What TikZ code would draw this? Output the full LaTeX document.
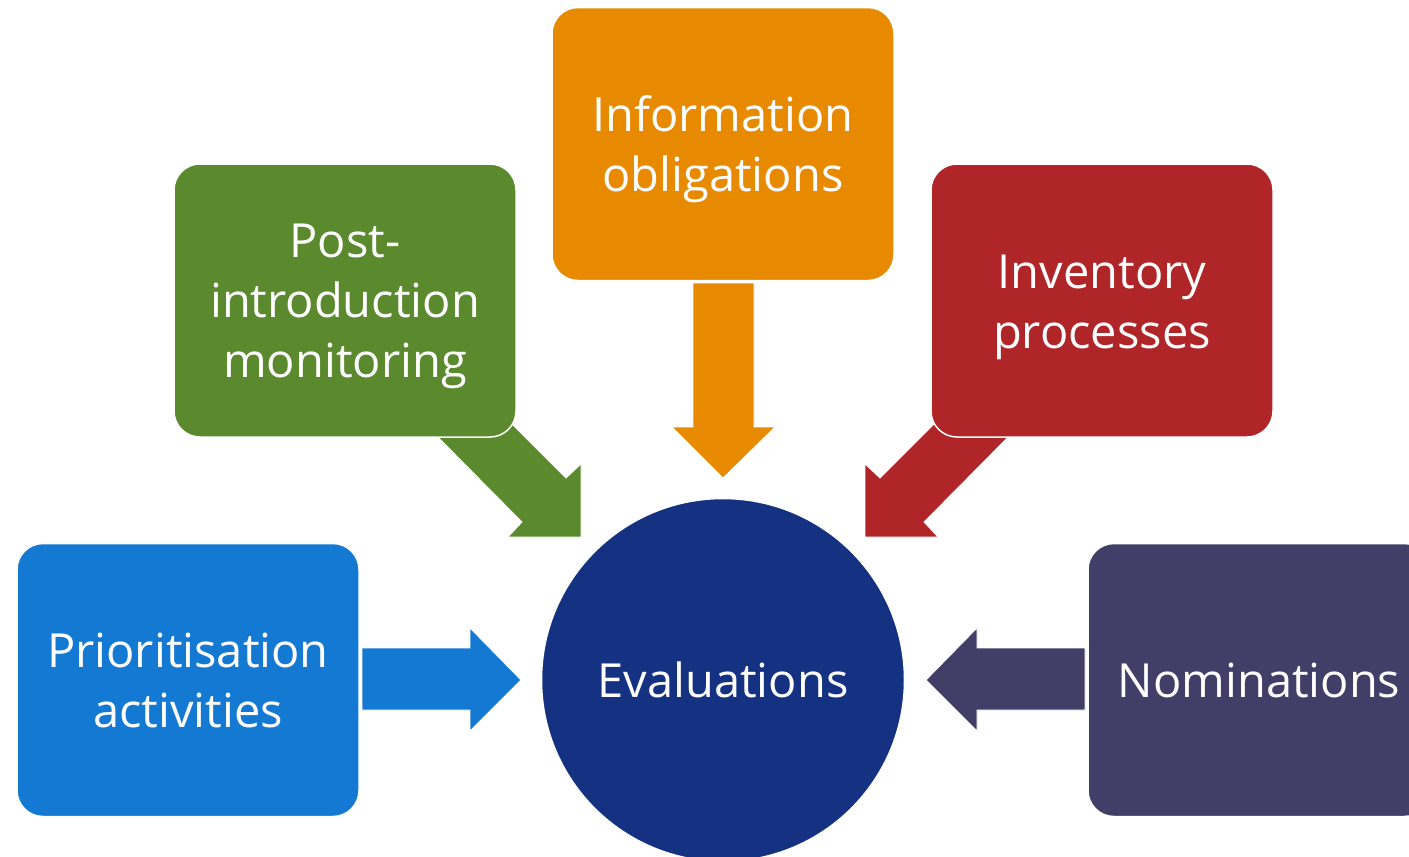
\documentclass[tikz,border=0pt]{standalone}
\usepackage{fontspec}
\setmainfont{Open Sans}
\begin{document}
\begin{tikzpicture}[x=1pt,y=-1pt,
  box/.style={draw=white,line width=1.5pt,rounded corners=26pt,minimum width=342pt,minimum height=273pt,
    align=center,text=white,inner sep=0pt,font=\fontsize{47}{60}\selectfont},
  txt/.style={align=center,text=white,inner sep=0pt,font=\fontsize{47}{60}\selectfont},
  barrow/.style={draw=white,line width=0.8pt,line join=miter}]
\definecolor{cblue}{HTML}{1479D3}
\definecolor{cgreen}{HTML}{5B8A2E}
\definecolor{corange}{HTML}{E88A00}
\definecolor{cred}{HTML}{B02527}
\definecolor{cpurple}{HTML}{413E68}
\definecolor{cnavy}{HTML}{153282}
\useasboundingbox (0,0) rectangle (1409,857);
\clip (0,0) rectangle (1409,857);
% arrows (under boxes)
\fill[cgreen,barrow] (425.5,424.5) -- (522,522) -- (508,537) -- (581,537) -- (581,464) -- (566,478) -- (469,381) -- cycle;
\fill[cred,barrow] (1020.5,424.5) -- (924,522) -- (938,537) -- (865,537) -- (865,464) -- (880,478) -- (977,381) -- cycle;
\fill[corange,barrow] (693,283) -- (754,283) -- (754,427) -- (775,427) -- (723,478) -- (672,427) -- (693,427) -- cycle;
\fill[cblue,barrow] (362,648) -- (470,648) -- (470,628) -- (521,680) -- (470,731) -- (470,710) -- (362,710) -- cycle;
\fill[cpurple,barrow] (1085,648) -- (977,648) -- (977,628) -- (926,680) -- (977,731) -- (977,710) -- (1085,710) -- cycle;
% boxes
\node[box,fill=cblue] (prio) at (188,680) {Prioritisation\\activities};
\node[box,fill=cgreen] (post) at (345,300.5) {};
\node[txt] (postt) at ([yshift=-6pt]post.center) {Post-\\introduction\\monitoring};
\node[box,fill=corange] (info) at (723,144) {};
\node[txt] (infot) at ([yshift=-5pt]info.center) {Information\\obligations};
\node[box,fill=cred] (inv) at (1102,300.5) {};
\node[txt] (invt) at ([yshift=-7pt]inv.center) {Inventory\\processes};
\node[box,fill=cpurple] (nom) at (1259,680) {Nominations};
\node[circle,fill=cnavy,draw=white,line width=1.5pt,minimum size=363pt,inner sep=0pt,text=white,font=\fontsize{47}{60}\selectfont] (eval) at (723,680) {Evaluations};
\end{tikzpicture}
\end{document}
